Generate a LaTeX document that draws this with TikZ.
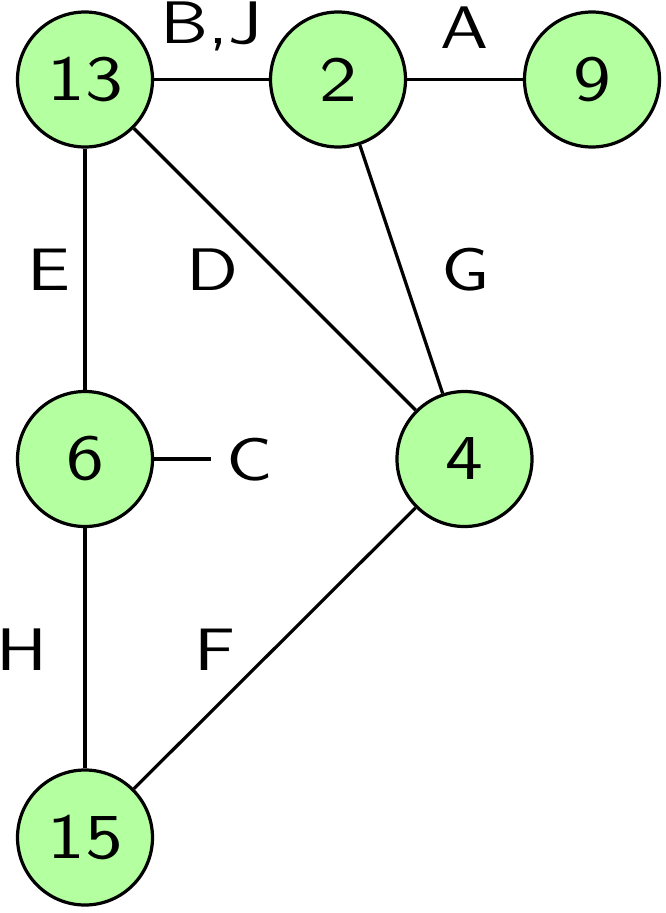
\documentclass[tikz,border=0pt]{standalone}
\usepackage{fontspec}
\newfontfamily\labfont[FakeStretch=1.2]{lmsans10-regular.otf}
\newfontfamily\digfont[FakeStretch=1.18]{lmsans10-regular.otf}
\usepackage{tikz}
\definecolor{nodegreen}{RGB}{180,255,160}
\begin{document}
\begin{tikzpicture}[x=1pt,y=-1pt,
  vert/.style={circle,draw=black,line width=3.2pt,fill=nodegreen,minimum size=135pt,inner sep=0pt,font=\digfont\fontsize{64}{70}\selectfont},
  lab/.style={inner sep=0pt,anchor=base,font=\labfont\fontsize{60}{66}\selectfont},
  edge/.style={line width=3.2pt}]
\useasboundingbox (0,0) rectangle (665,913);
\node[vert] (n13) at (85,79.5) {13};
\node[vert] (n2) at (338,79.5) {2};
\node[vert] (n9) at (592,79.5) {9};
\node[vert] (n6) at (85,459) {6};
\node[vert] (n4) at (464.5,459) {4};
\node[vert] (n15) at (85,837.5) {15};
\coordinate (cend) at (211,459);
\draw[edge] (n13) -- (n2);
\draw[edge] (n2) -- (n9);
\draw[edge] (n13) -- (n6);
\draw[edge] (n13) -- (n4);
\draw[edge] (n2) -- (n4);
\draw[edge] (n6) -- (cend);
\draw[edge] (n6) -- (n15);
\draw[edge] (n4) -- (n15);
\node[lab] (lBJ) at (211.5,43) {B,J};
\node[lab] (lA) at (465,48) {A};
\node[lab] (lE) at (49,290) {E};
\node[lab] (lD) at (212.5,290) {D};
\node[lab] (lG) at (465.5,290) {G};
\node[lab] (lC) at (250,480) {C};
\node[lab] (lH) at (21.5,670) {H};
\node[lab] (lF) at (215,670) {F};
\end{tikzpicture}
\end{document}
